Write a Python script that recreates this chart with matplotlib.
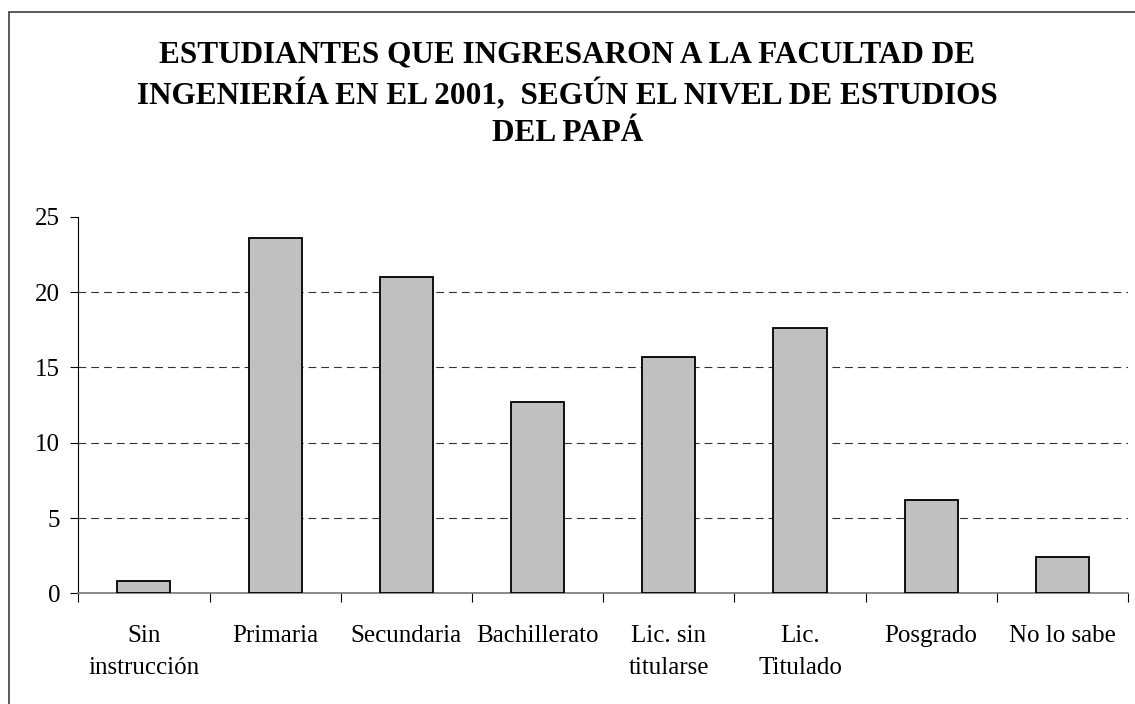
import matplotlib
matplotlib.use("Agg")
import matplotlib.pyplot as plt
from matplotlib.patches import Rectangle
import numpy as np

# ===============================
# Data
# ===============================
categories = ["Sin\ninstrucción", "Primaria", "Secundaria", "Bachillerato",
              "Lic. sin\ntitularse", "Lic.\nTitulado", "Posgrado", "No lo sabe"]
values = [0.8, 23.6, 21.0, 12.7, 15.7, 17.6, 6.2, 2.4]
y_ticks = [0, 5, 10, 15, 20, 25]
title = ("ESTUDIANTES QUE INGRESARON A LA FACULTAD DE\n"
         "INGENIERÍA EN EL 2001,  SEGÚN EL NIVEL DE ESTUDIOS\n"
         "DEL PAPÁ")

plt.rcParams["font.family"] = ["Liberation Serif", "DejaVu Serif"]

# ===============================
# Figure / axes
# ===============================
fig = plt.figure(figsize=(11.35, 7.04), dpi=100)
ax = fig.add_axes([0.069, 0.157, 0.9248, 0.535])

x = np.arange(len(categories))
ax.bar(x, values, width=0.405, color="#c0c0c0", edgecolor="black",
       linewidth=1.3, zorder=3)

ax.set_xlim(-0.5, len(categories) - 0.5)
ax.set_ylim(0, 25)
ax.set_yticks(y_ticks)
ax.set_yticklabels([str(t) for t in y_ticks], fontsize=18)

# labels at centers, tick marks at category boundaries
ax.set_xticks(x)
ax.set_xticklabels(categories, fontsize=18, linespacing=1.55)
ax.set_xticks(np.arange(-0.5, len(categories)), minor=True)
ax.tick_params(axis="x", which="major", length=0, pad=23)
ax.tick_params(axis="x", which="minor", length=6.5, width=0.8, direction="out")
ax.tick_params(axis="y", length=6, width=0.8, direction="out", pad=7)

# dashed gridlines (not on the top)
for t in y_ticks[1:-1]:
    ax.axhline(t, color="#333333", linewidth=0.8, dashes=(7, 4.5), zorder=1)

for side in ["top", "right"]:
    ax.spines[side].set_visible(False)
ax.spines["left"].set_linewidth(0.8)
ax.spines["bottom"].set_color("#808080")
ax.spines["bottom"].set_linewidth(1.3)

# ===============================
# Title and outer frame
# ===============================
fig.text(0.5, 0.866, title, ha="center", va="center", fontsize=22.5,
         fontweight="bold", linespacing=1.38)

frame = Rectangle((9 / 1135, -0.1), 1.2, 0.1 + (1 - 12 / 704),
                  transform=fig.transFigure, fill=False,
                  edgecolor="#404040", linewidth=1.2)
fig.patches.append(frame)

fig.savefig("out.png", dpi=100)
